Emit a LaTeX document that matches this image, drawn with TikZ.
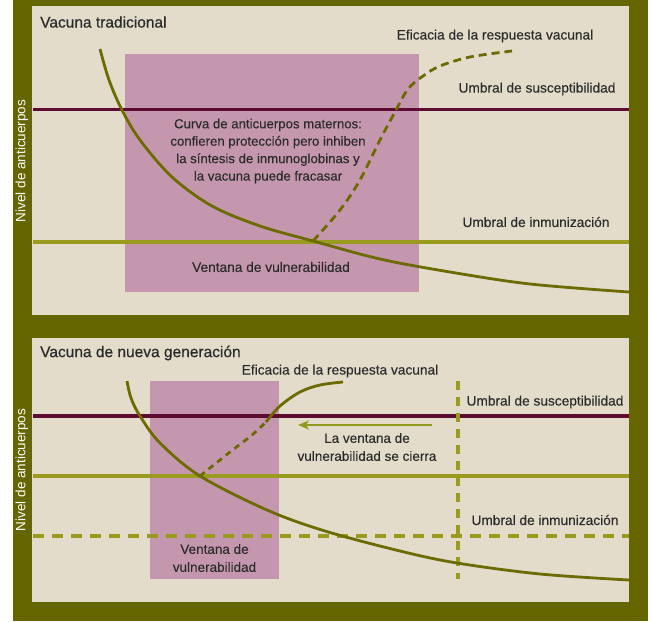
\documentclass[tikz,border=0pt]{standalone}
\usepackage{fontspec}
\setmainfont{Liberation Sans}
\newfontfamily\medfont{Liberation Sans}[FakeBold=0.25]
\newfontfamily\ttlfont{Liberation Sans}[FakeBold=0.6]
\usetikzlibrary{arrows.meta}
\definecolor{olivebg}{HTML}{666600}
\definecolor{beige}{HTML}{E3DCCB}
\definecolor{pinkwin}{HTML}{C597AE}
\definecolor{maroon}{HTML}{5D0B30}
\definecolor{lgreen}{HTML}{999A1E}
\definecolor{curvec}{HTML}{6B6B00}
\definecolor{txtc}{HTML}{2B2B2B}
\definecolor{arrowc}{HTML}{8E9A1E}
\tikzset{
  txt/.style={text=txtc, font=\medfont\fontsize{13.7}{15.5}\selectfont, inner sep=0pt, align=center},
  ttl/.style={text=txtc, font=\ttlfont\fontsize{15.5}{17}\selectfont, inner sep=0pt, anchor=west},
  ylab/.style={text=white, font=\fontsize{13.5}{15}\selectfont, inner sep=0pt, rotate=90},
  suscline/.style={maroon, line width=3.6pt},
  immline/.style={lgreen, line width=3.6pt},
  curve/.style={curvec, line width=2.8pt, line cap=butt},
}
\begin{document}
\begin{tikzpicture}[x=1pt,y=-1pt]
\useasboundingbox (0,0) rectangle (652,621);
\fill[white] (0,0) rectangle (652,621);
\fill[olivebg] (13,0) rectangle (648,621);
% panels
\fill[beige] (32,6) rectangle (629,315);
\fill[beige] (32,338) rectangle (629,602);

% ---------- top panel ----------
\fill[pinkwin] (125,54) rectangle (419,292);
\coordinate (s1a) at (33,109.5); \coordinate (s1b) at (629,109.5);
\coordinate (i1a) at (33,242);   \coordinate (i1b) at (629,242);
\draw[suscline] (s1a) -- (s1b);
\draw[immline] (i1a) -- (i1b);
\draw[curve] plot[smooth, tension=0.55] coordinates {(100,49) (109,80) (122,110) (140,140) (172,177) (212,206) (260,226) (313,241) (380,259) (450,272) (530,284) (629,292)};
\draw[curve, dash pattern=on 8pt off 5pt] plot[smooth, tension=0.55] coordinates {(313,241) (340,210) (360,180) (380,140) (396,110) (408,89) (423,76) (440,66) (470,57) (512,51)};

\node[ttl] (t1) at (40,22) {Vacuna tradicional};
\node[ylab] (y1) at (22,161) {Nivel de anticuerpos};
\node[txt] (ef1) at (495,36) {Eficacia de la respuesta vacunal};
\node[txt] (us1) at (537,89) {Umbral de susceptibilidad};
\node[txt] (ui1) at (536,222) {Umbral de inmunización};
\node[txt, font=\medfont\fontsize{13.2}{17.4}\selectfont] (cm1) at (268,151)
  {Curva de anticuerpos maternos:\\confieren protección pero inhiben\\la síntesis de inmunoglobinas y\\la vacuna puede fracasar};
\node[txt] (vv1) at (271,267) {Ventana de vulnerabilidad};

% ---------- bottom panel ----------
\fill[pinkwin] (150,381) rectangle (279,579);
\coordinate (s2a) at (33,416); \coordinate (s2b) at (629,416);
\coordinate (i2a) at (33,476); \coordinate (i2b) at (629,476);
\coordinate (d2a) at (33,536); \coordinate (d2b) at (629,536);
\coordinate (va) at (458,381); \coordinate (vb) at (458,579);
\draw[suscline] (s2a) -- (s2b);
\draw[immline] (i2a) -- (i2b);
\draw[immline, dash pattern=on 11pt off 8pt] (d2a) -- (d2b);
\draw[lgreen, line width=3.4pt, dash pattern=on 9pt off 7pt] (va) -- (vb);
\draw[curve] plot[smooth, tension=0.55] coordinates {(127,381) (131,398) (140,416) (160,443) (200,476) (267,510) (325,531) (400,551) (457,563) (540,574) (629,580)};
\draw[curve, dash pattern=on 6pt off 5pt] plot[smooth, tension=0.55] coordinates {(200,476) (230,452) (252,435) (267,421)};
\draw[curve] plot[smooth, tension=0.55] coordinates {(266,422) (280,406) (300,392) (320,385) (343,382)};
\coordinate (ar1) at (432,425); \coordinate (ar2) at (298,425);
\draw[arrowc, line width=1.8pt, -{Stealth[length=11pt,width=9pt,inset=3pt]}] (ar1) -- (ar2);

\node[ttl] (t2) at (40,353) {Vacuna de nueva generación};
\node[ylab] (y2) at (22,470) {Nivel de anticuerpos};
\node[txt] (ef2) at (340,371) {Eficacia de la respuesta vacunal};
\node[txt] (us2) at (545,402) {Umbral de susceptibilidad};
\node[txt] (ui2) at (545,520) {Umbral de inmunización};
\node[txt, font=\medfont\fontsize{13.5}{18}\selectfont] (cl2) at (367,447) {La ventana de\\vulnerabilidad se cierra};
\node[txt, font=\medfont\fontsize{13.5}{18}\selectfont] (vv2) at (214.5,558) {Ventana de\\vulnerabilidad};
\end{tikzpicture}
\end{document}
